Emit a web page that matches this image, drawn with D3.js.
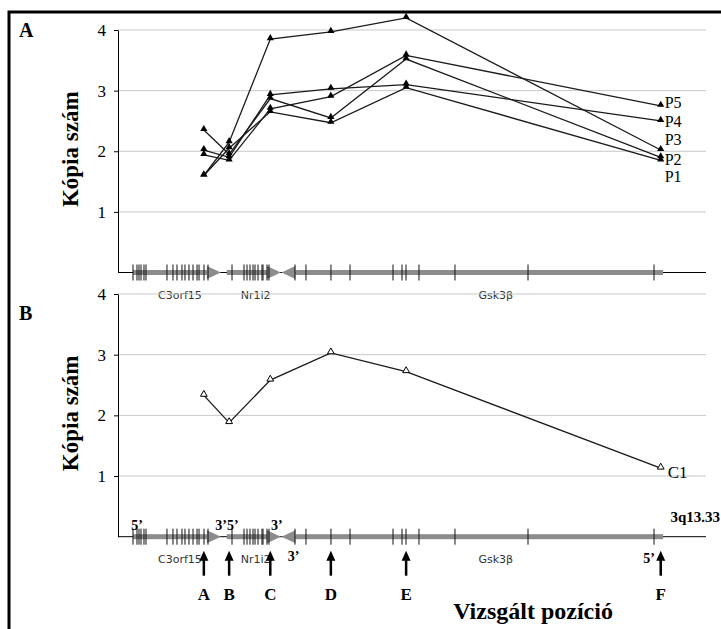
<!DOCTYPE html>
<html>
<head>
<meta charset="utf-8">
<script src="https://cdn.jsdelivr.net/npm/d3@7"></script>
<style>
  body { margin: 0; background: #fff; }
  svg { display: block; }
</style>
</head>
<body>
<div id="my_dataviz"></div>
<script>
// probe names and their relative position along the locus (0-100)
var probes = ["A", "B", "C", "D", "E", "F"];
var probePos = [14.6, 18.9, 25.9, 36.2, 49.0, 92.3];

// patient copy numbers (panel A)
var sampleNames = ["P1", "P2", "P3", "P4", "P5"];
var p1 = [1.60, 2.05, 2.65, 2.47, 3.05, 1.85];
var p2 = [2.35, 1.95, 2.87, 2.55, 3.52, 1.90];
var p3 = [1.60, 2.15, 3.85, 3.97, 4.20, 2.02];
var p4 = [2.02, 1.90, 2.93, 3.03, 3.10, 2.50];
var p5 = [1.94, 1.85, 2.70, 2.90, 3.58, 2.75];

// control copy numbers (panel B)
var controlName = "C1";
var c1 = [2.33, 1.88, 2.58, 3.03, 2.72, 1.13];

var yTicks = [1, 2, 3, 4];

// gene models: name, start, end, strand
var geneNames = ["C3orf15", "Nr1i2", "Gsk3β"];
var geneStart = [2.55, 18.5, 27.8];
var geneEnd = [17.5, 27.7, 92.7];
var geneStrand = [1, 1, -1];
var exonsC3orf15 = [2.55, 3.23, 3.57, 3.91, 4.42, 4.76, 8.33, 9.35, 10.03, 10.88, 11.39, 12.07, 12.76, 13.44, 13.78, 14.63, 15.31];
var exonsNr1i2 = [19.39, 21.43, 21.94, 22.45, 22.96, 23.30, 23.81, 24.49, 24.66, 25.34, 25.68];
var exonsGsk3b = [30.10, 31.97, 36.22, 39.46, 46.77, 48.30, 48.98, 51.19, 57.31, 69.73, 91.16];

var W = 721, H = 629;
var serif = "'Liberation Serif', 'Times New Roman', serif";
var sans = "'DejaVu Sans', sans-serif";

var svg = d3.select("#my_dataviz")
  .append("svg")
    .attr("width", W)
    .attr("height", H);

// outer frame (top + left only)
svg.append("path")
  .attr("d", "M9," + H + "V12H" + W)
  .attr("fill", "none")
  .attr("stroke", "#000")
  .attr("stroke-width", 3);

var x = d3.scaleLinear().domain([0, 100]).range([118, 706]);

var panelA = { y: d3.scaleLinear().domain([0, 4]).range([272.5, 30]) };
var panelB = { y: d3.scaleLinear().domain([0, 4]).range([536.7, 294]) };

function drawPanel(p, letter, letterY) {
  var y = p.y;
  var g = svg.append("g");

  // gridlines
  g.selectAll(".grid")
    .data(yTicks)
    .enter().append("line")
      .attr("x1", x(0)).attr("x2", x(100))
      .attr("y1", function(d) { return y(d) }).attr("y2", function(d) { return y(d) })
      .attr("stroke", "#c8c8c8")
      .attr("stroke-width", 1);

  // y axis
  var ax = g.append("g")
    .attr("transform", "translate(" + x(0) + ",0)")
    .call(d3.axisLeft(y).tickValues(yTicks).tickSize(4).tickSizeOuter(0).tickPadding(8).tickFormat(d3.format("d")));
  ax.selectAll("text").attr("font-family", serif).attr("font-size", 17).attr("fill", "#000");
  ax.select(".domain").attr("stroke", "#000");

  // baseline
  g.append("line")
    .attr("x1", x(0)).attr("x2", x(100))
    .attr("y1", y(0)).attr("y2", y(0))
    .attr("stroke", "#000").attr("stroke-width", 1);

  // axis title
  g.append("text")
    .attr("transform", "translate(78," + ((y(0) + y(4)) / 2 - 2) + ") rotate(-90)")
    .attr("text-anchor", "middle")
    .attr("font-family", serif)
    .attr("font-weight", "bold")
    .attr("font-size", 23)
    .text("Kópia szám");

  // panel letter
  g.append("text")
    .attr("x", 19).attr("y", letterY)
    .attr("font-family", serif)
    .attr("font-weight", "bold")
    .attr("font-size", 20)
    .text(letter);

  drawTrack(y(0));
  return g;
}

function drawTrack(ty) {
  var g = svg.append("g");
  var band = 5, head = 6.5, headLen = 14;
  geneNames.forEach(function(name, i) {
    var s = x(geneStart[i]), e = x(geneEnd[i]);
    if (geneStrand[i] > 0) {
      g.append("rect").attr("x", s).attr("y", ty - band / 2)
        .attr("width", e - headLen - s).attr("height", band).attr("fill", "#8c8c8c");
      g.append("path")
        .attr("d", "M" + (e - headLen) + "," + (ty - head) + "L" + e + "," + ty + "L" + (e - headLen) + "," + (ty + head) + "Z")
        .attr("fill", "#8c8c8c");
    } else {
      g.append("rect").attr("x", s + headLen).attr("y", ty - band / 2)
        .attr("width", e - s - headLen).attr("height", band).attr("fill", "#8c8c8c");
      g.append("path")
        .attr("d", "M" + (s + headLen) + "," + (ty - head) + "L" + s + "," + ty + "L" + (s + headLen) + "," + (ty + head) + "Z")
        .attr("fill", "#8c8c8c");
    }
  });
  var exons = exonsC3orf15.concat(exonsNr1i2, exonsGsk3b);
  g.selectAll(".exon")
    .data(exons)
    .enter().append("line")
      .attr("x1", function(d) { return x(d) }).attr("x2", function(d) { return x(d) })
      .attr("y1", ty - 8).attr("y2", ty + 8)
      .attr("stroke", "#111").attr("stroke-width", 1);

  // gene names
  var labelX = [
    (geneStart[0] + geneEnd[0]) / 2 + 0.5,
    (geneStart[1] + geneEnd[1]) / 2 + 0.3,
    (geneStart[2] + geneEnd[2]) / 2 + 4
  ];
  geneNames.forEach(function(name, i) {
    g.append("text")
      .attr("x", x(labelX[i])).attr("y", ty + 26)
      .attr("text-anchor", "middle")
      .attr("font-family", sans)
      .attr("font-size", 11)
      .attr("fill", "#333")
      .text(name);
  });
}

var tri = d3.symbol().type(d3.symbolTriangle).size(22);
var line = function(y) {
  return d3.line()
    .x(function(d, i) { return x(probePos[i]) })
    .y(function(d) { return y(d) });
};

// ---- Panel A ----
drawPanel(panelA, "A", 37);
var series = [p1, p2, p3, p4, p5];
var gA = svg.append("g");
series.forEach(function(s) {
  gA.append("path")
    .datum(s)
    .attr("fill", "none")
    .attr("stroke", "#1a1a1a")
    .attr("stroke-width", 1.3)
    .attr("d", line(panelA.y));
});
series.forEach(function(s) {
  gA.selectAll(null)
    .data(s)
    .enter().append("path")
      .attr("d", tri)
      .attr("transform", function(d, i) { return "translate(" + x(probePos[i]) + "," + (panelA.y(d) - 1) + ")" })
      .attr("fill", "#000");
});
// series labels at the last probe
var labelNudge = [-0.27, -0.03, 0.17, -0.01, 0.05];
series.forEach(function(s, k) {
  gA.append("text")
    .attr("x", x(probePos[5]) + 4)
    .attr("y", panelA.y(s[5] + labelNudge[k]))
    .attr("dy", "0.35em")
    .attr("font-family", serif)
    .attr("font-size", 16)
    .text(sampleNames[k]);
});

// ---- Panel B ----
drawPanel(panelB, "B", 320);
var gB = svg.append("g");
gB.append("path")
  .datum(c1)
  .attr("fill", "none")
  .attr("stroke", "#1a1a1a")
  .attr("stroke-width", 1.3)
  .attr("d", line(panelB.y));
gB.selectAll(null)
  .data(c1)
  .enter().append("path")
    .attr("d", d3.symbol().type(d3.symbolTriangle).size(20))
    .attr("transform", function(d, i) { return "translate(" + x(probePos[i]) + "," + (panelB.y(d) - 1) + ")" })
    .attr("fill", "#fff")
    .attr("stroke", "#000")
    .attr("stroke-width", 1);
gB.append("text")
  .attr("x", x(probePos[5]) + 7)
  .attr("y", panelB.y(c1[5] - 0.06))
  .attr("dy", "0.35em")
  .attr("font-family", serif)
  .attr("font-size", 17)
  .text(controlName);

// probe arrows and letters
var ty = panelB.y(0);
var gArr = svg.append("g");
probes.forEach(function(p, i) {
  var px = x(probePos[i]);
  gArr.append("line")
    .attr("x1", px).attr("x2", px)
    .attr("y1", ty + 39).attr("y2", ty + 22)
    .attr("stroke", "#000").attr("stroke-width", 2.5);
  gArr.append("path")
    .attr("d", "M" + (px - 4.5) + "," + (ty + 24) + "L" + px + "," + (ty + 14) + "L" + (px + 4.5) + "," + (ty + 24) + "Z")
    .attr("fill", "#000");
  gArr.append("text")
    .attr("x", px).attr("y", ty + 63)
    .attr("text-anchor", "middle")
    .attr("font-family", serif)
    .attr("font-weight", "bold")
    .attr("font-size", 17)
    .text(p);
});

// strand end labels
var endLabels = [
  { t: "5’", x: x(geneStart[0]) + 4, y: ty - 7 },
  { t: "3’5’", x: x(geneEnd[0]) + 6, y: ty - 7 },
  { t: "3’", x: x(geneEnd[1]) - 4, y: ty - 7 },
  { t: "3’", x: x(geneStart[2]) + 12, y: ty + 24 },
  { t: "5’", x: x(geneEnd[2]) - 14, y: ty + 26 }
];
endLabels.forEach(function(l) {
  gArr.append("text")
    .attr("x", l.x).attr("y", l.y)
    .attr("text-anchor", "middle")
    .attr("font-family", serif)
    .attr("font-weight", "bold")
    .attr("font-size", 14)
    .text(l.t);
});
gArr.append("text")
  .attr("x", x(100) + 14).attr("y", ty - 15)
  .attr("text-anchor", "end")
  .attr("font-family", serif)
  .attr("font-weight", "bold")
  .attr("font-size", 15)
  .text("3q13.33");

// x axis title
svg.append("text")
  .attr("x", 533).attr("y", 619)
  .attr("text-anchor", "middle")
  .attr("font-family", serif)
  .attr("font-weight", "bold")
  .attr("font-size", 24)
  .text("Vizsgált pozíció");
</script>
</body>
</html>
